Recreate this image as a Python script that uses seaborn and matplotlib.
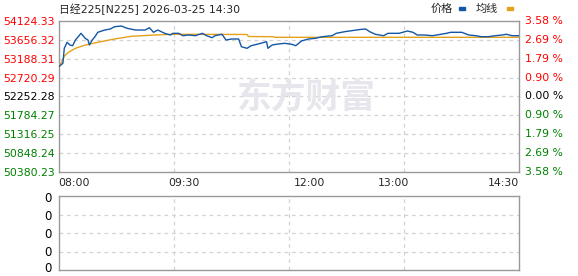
import matplotlib
matplotlib.use("Agg")
import matplotlib.pyplot as plt
import matplotlib.transforms as mtransforms
import seaborn as sns
import pandas as pd

# ---------------- data ----------------
title_text = "日经225[N225] 2026-03-25 14:30"
prev_close = 52252.28
y_ticks = [54124.33, 53656.32, 53188.31, 52720.29, 52252.28, 51784.27, 51316.25, 50848.24, 50380.23]
pct_labels = ["3.58 %", "2.69 %", "1.79 %", "0.90 %", "0.00 %", "0.90 %", "1.79 %", "2.69 %", "3.58 %"]
x_tick_pos = [0, 90, 180, 240, 330]
x_tick_labels = ["08:00", "09:30", "12:00", "13:00", "14:30"]
vol_labels = ["0", "0", "0", "0", "0"]

price_minutes = [0, 3, 4, 6, 8, 10, 12, 14, 16, 19, 21, 22, 24, 26, 28, 33, 37, 40, 45, 49,
                 55, 62, 65, 68, 71, 76, 80, 82, 86, 89, 93, 98, 103, 106, 110, 112, 117, 120,
                 124, 129, 131, 135, 138, 143, 149, 150, 153, 156, 162, 167, 170, 174, 179, 184,
                 189, 196, 199, 205, 210, 217, 220, 223, 227, 233, 236, 244, 250, 254, 257, 262,
                 268, 278, 281, 289, 294, 299, 303, 308, 313, 318, 321, 325, 330]
price_values = [52991, 53075, 53447, 53596, 53529, 53512, 53653, 53735, 53819, 53695, 53653,
                53529, 53653, 53735, 53844, 53901, 53926, 53983, 54000, 53943, 53901, 53901,
                53958, 53844, 53901, 53819, 53777, 53819, 53819, 53760, 53777, 53760, 53819,
                53760, 53710, 53760, 53795, 53653, 53678, 53678, 53487, 53447, 53512, 53554,
                53611, 53447, 53529, 53547, 53571, 53547, 53512, 53628, 53678, 53695, 53735,
                53760, 53819, 53859, 53884, 53918, 53926, 53859, 53795, 53760, 53819, 53819,
                53876, 53844, 53777, 53777, 53760, 53819, 53844, 53844, 53777, 53760, 53735,
                53735, 53760, 53777, 53795, 53760, 53760]

avg_minutes = [0, 2, 4, 7, 12, 19, 28, 40, 52, 69, 81, 135, 136, 154, 155, 330]
avg_values = [52991, 53100, 53250, 53350, 53447, 53529, 53596, 53678, 53745, 53777, 53795,
              53790, 53740, 53735, 53720, 53720]

# ---------------- style ----------------
sns.set_style("white")
plt.rcParams["font.family"] = ["DejaVu Sans", "Noto Sans CJK SC"]

W, H = 578, 276
fig = plt.figure(figsize=(W / 100, H / 100), dpi=100)

def px_axes(x0, y0, x1, y1):
    return fig.add_axes([x0 / W, 1 - y1 / H, (x1 - x0) / W, (y1 - y0) / H])

ax = px_axes(58.7, 21, 519, 172)
axv = px_axes(58.7, 196.3, 519, 270)

spine_col = "#999999"
grid_col = "#d2d2d2"
red = "#ff0000"
green = "#008000"
blue = "#1457a7"
orange = "#e3a21a"

price_df = pd.DataFrame({"minute": price_minutes, "price": price_values})
avg_df = pd.DataFrame({"minute": avg_minutes, "avg": avg_values})

for a in (ax, axv):
    a.set_xlim(0, 330)
    for s in a.spines.values():
        s.set_color(spine_col)
        s.set_linewidth(1.0)
    a.tick_params(length=0)
    for q in (82.5, 165, 247.5):
        a.axvline(q, color=grid_col, lw=0.9, ls=(0, (3, 3)), zorder=0)

ax.set_ylim(y_ticks[-1], y_ticks[0])
for v in y_ticks[1:-1]:
    ax.axhline(v, color=grid_col, lw=0.9, ls=(0, (3, 3)), zorder=0)

# watermark
ax.text(0.538, 0.495, "东方财富", transform=ax.transAxes, ha="center", va="center",
        fontsize=25, fontweight="bold", color="#e6e6ec", family=["Noto Sans CJK SC"], zorder=0)

sns.lineplot(data=avg_df, x="minute", y="avg", ax=ax, color=orange, lw=1.0, zorder=3)
sns.lineplot(data=price_df, x="minute", y="price", ax=ax, color=blue, lw=1.0, zorder=4)

ax.set_xlabel("")
ax.set_ylabel("")
ax.set_yticks(y_ticks)
ax.set_yticklabels([f"{v:.2f}" for v in y_ticks], fontsize=7.8)
for i, lab in enumerate(ax.get_yticklabels()):
    lab.set_color(red if i < 4 else ("black" if i == 4 else green))
ax.tick_params(axis="y", pad=3)

# right-hand percent labels
trans = mtransforms.blended_transform_factory(fig.transFigure, ax.transData)
for i, (v, t) in enumerate(zip(y_ticks, pct_labels)):
    c = red if i < 4 else ("black" if i == 4 else green)
    fig.text(525 / W, v, t, transform=trans, ha="left", va="center", fontsize=7.8, color=c)

ax.set_xticks(x_tick_pos)
ax.set_xticklabels(x_tick_labels, fontsize=7.8)
xl = ax.get_xticklabels()
xl[0].set_ha("left")
xl[-1].set_ha("right")
ax.tick_params(axis="x", pad=4)

# volume panel (empty)
axv.set_ylim(0, 4)
for v in (1, 2, 3):
    axv.axhline(v, color=grid_col, lw=0.9, ls=(0, (3, 3)), zorder=0)
axv.set_yticks([])
axv.set_xticks([])
vol_y_px = [199, 217, 235, 252.5, 268.5]
for lab, ypx in zip(vol_labels, vol_y_px):
    fig.text(52 / W, 1 - ypx / H, lab, ha="right", va="center", fontsize=8.5, color="black")

# title & legend
fig.text(59 / W, 1 - 9 / H, title_text, ha="left", va="center", fontsize=7.8,
         family=["DejaVu Sans", "Noto Sans CJK SC"])
fig.text(431 / W, 1 - 9 / H, "价格", ha="left", va="center", fontsize=8,
         family=["Noto Sans CJK SC"])
fig.patches.append(plt.Rectangle((459 / W, 1 - 10 / H), 6 / W, 3 / H, transform=fig.transFigure,
                                 color=blue))
fig.text(476 / W, 1 - 9 / H, "均线", ha="left", va="center", fontsize=8,
         family=["Noto Sans CJK SC"])
fig.patches.append(plt.Rectangle((507 / W, 1 - 10 / H), 6 / W, 3 / H, transform=fig.transFigure,
                                 color=orange))

fig.savefig("out.png", dpi=100)
